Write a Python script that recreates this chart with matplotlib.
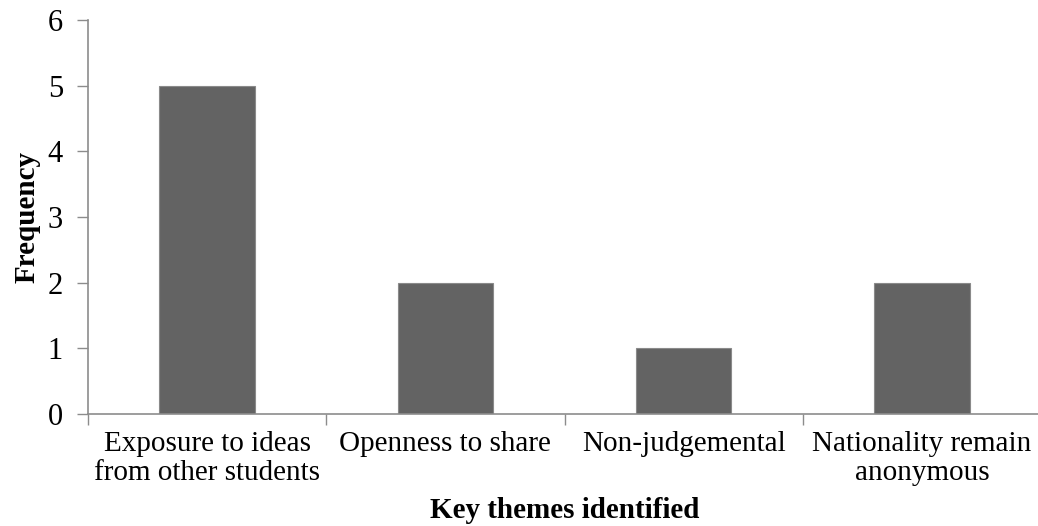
import matplotlib.pyplot as plt

categories = ['Exposure to ideas\nfrom other students', 'Openness to share',
              'Non-judgemental', 'Nationality remain\nanonymous']
frequency = [5, 2, 1, 2]


def main():
    plt.rcParams['font.family'] = ['Liberation Serif', 'DejaVu Serif']
    fig = plt.figure(figsize=(10.38, 5.26), dpi=100)
    ax = fig.add_axes([88 / 1038, 1 - 414 / 526, (1041 - 88) / 1038, (414 - 20) / 526])

    x = list(range(len(categories)))
    ax.bar(x, frequency, width=0.4, color='#636363', edgecolor='#8a8a8a', linewidth=0.8, zorder=2)

    ax.set_xlim(-0.5, len(categories) - 0.5)
    ax.set_ylim(0, 6)
    ax.set_yticks(range(0, 7))
    ax.tick_params(axis='y', labelsize=22, length=8, width=1, color='#8c8c8c', pad=10)

    # category labels at centres, tick marks between categories
    ax.set_xticks(x)
    ax.set_xticklabels(categories, fontsize=21, linespacing=1.15)
    ax.tick_params(axis='x', length=0, pad=12)
    ax.set_xticks([i + 0.5 for i in range(-1, len(categories) - 1)], minor=True)
    ax.tick_params(axis='x', which='minor', length=8, width=1, color='#8c8c8c')

    for side in ['top', 'right']:
        ax.spines[side].set_visible(False)
    for side in ['left', 'bottom']:
        ax.spines[side].set_color('#8c8c8c')
        ax.spines[side].set_linewidth(1.2)

    ax.set_xlabel('Key themes identified', fontsize=21, fontweight='bold', labelpad=8)
    ax.set_ylabel('Frequency', fontsize=21, fontweight='bold', labelpad=5)

    fig.savefig('out.png', dpi=100, facecolor='w')
    plt.close('all')


if __name__ == '__main__':
    main()
